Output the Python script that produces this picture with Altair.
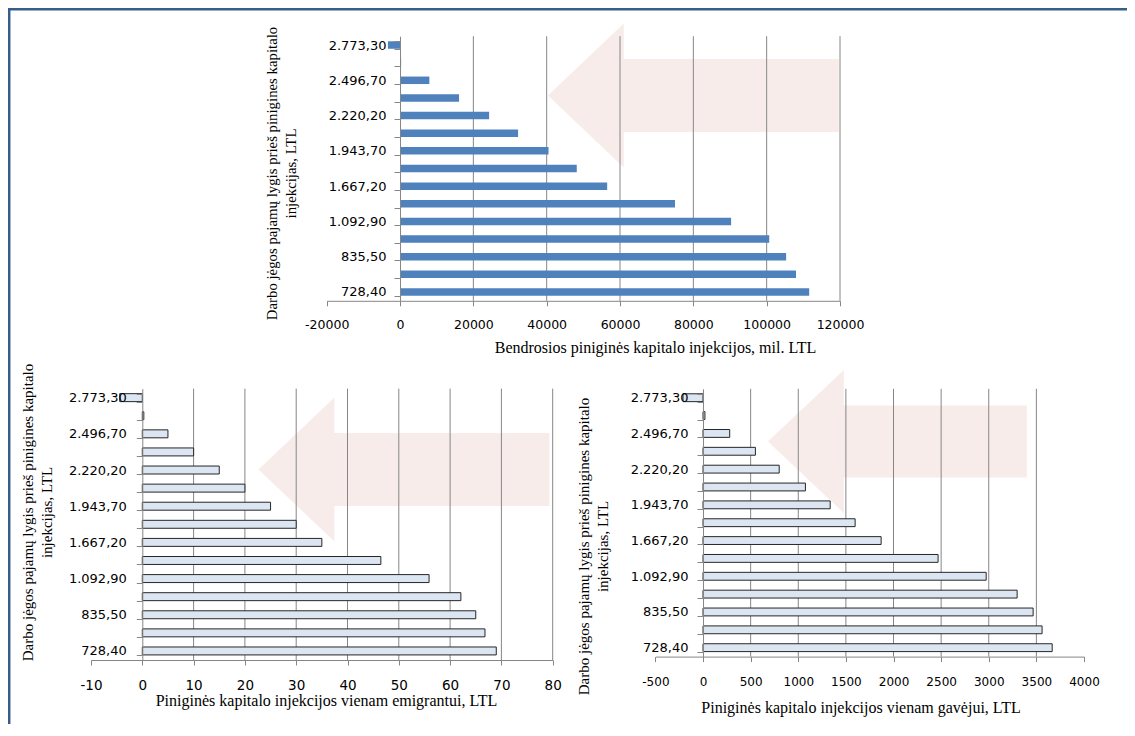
import json
import altair as alt
import pandas as pd

# ---------------- data ----------------
categories = ["2.773,30", "2.635,00", "2.496,70", "2.358,45", "2.220,20", "2.081,95",
              "1.943,70", "1.805,45", "1.667,20", "1.380,05", "1.092,90", "964,20",
              "835,50", "781,95", "728,40"]
shown_labels = ["2.773,30", "2.496,70", "2.220,20", "1.943,70", "1.667,20",
                "1.092,90", "835,50", "728,40"]

total_injection = [-3300, 300, 8000, 16100, 24300, 32200, 40500, 48200, 56500,
                   75000, 90300, 100700, 105300, 108000, 111600]
per_emigrant = [-4.4, 0.3, 5, 10, 15, 20, 25, 30, 35, 46.5, 55.9, 62.1, 65, 66.8, 69]
per_recipient = [-210, 20, 280, 550, 800, 1075, 1335, 1597, 1870, 2468, 2973,
                 3298, 3466, 3560, 3666]

top_ticks = [-20000, 0, 20000, 40000, 60000, 80000, 100000, 120000]
bl_ticks = [-10, 0, 10, 20, 30, 40, 50, 60, 70, 80]
br_ticks = [-500, 0, 500, 1000, 1500, 2000, 2500, 3000, 3500, 4000]
top_grid = [20000, 40000, 60000, 80000, 100000, 120000]
bl_grid = [10, 20, 30, 40, 50, 60, 70, 80]
br_grid = [500, 1000, 1500, 2000, 2500, 3000, 3500]

y_title_top = ["Darbo jėgos pajamų lygis prieš pinigines  kapitalo", "injekcijas, LTL"]
y_title_bl = ["Darbo jėgos pajamų lygis prieš pinigines  kapitalo", "injekcijas, LTL"]
y_title_br = ["Darbo jėgos pajamų lygis prieš pinigines kapitalo", "injekcijas, LTL"]
x_title_top = "Bendrosios piniginės kapitalo injekcijos, mil. LTL"
x_title_bl = "Piniginės kapitalo injekcijos  vienam emigrantui, LTL"
x_title_br = "Piniginės kapitalo injekcijos  vienam  gavėjui, LTL"

# decorative arrows: centre (x in data units, y as fraction of plot height)
arrow_top = {"ax": [80000], "ay": [0.224]}
arrow_bl = {"ax": [51], "ay": [0.298]}
arrow_br = {"ax": [2040], "ay": [0.197]}

# ---------------- style / layout ----------------
W, H = 1119, 716
GRAY = "#868686"
LABEL_FONT = "DejaVu Sans"
TITLE_FONT = "Liberation Serif"
ARROW_A = "M-1,0 L-0.478,-0.495 L-0.478,-0.251 L1,-0.251 L1,0.251 L-0.478,0.251 L-0.478,0.495 Z"
ARROW_B = "M-1,0 L-0.413,-0.552 L-0.413,-0.278 L1,-0.278 L1,0.278 L-0.413,0.278 L-0.413,0.552 Z"

label_expr = "indexof(" + json.dumps(shown_labels) + ", datum.value) >= 0 ? datum.label : ''"


def panel(values, x_domain, x_range, y_range, ticks, grid_vals, arrow, arrow_shape,
          arrow_size, pad_inner, bar_kw, x_title, x_title_pos, x_title_size,
          x_label_size, x_label_pad, y_title, y_title_pos, y_title_size, y_label_pad):
    x0, x1 = x_range
    zero_x = x0 + (0 - x_domain[0]) / (x_domain[1] - x_domain[0]) * (x1 - x0)
    xscale = alt.Scale(domain=x_domain, range=list(x_range), nice=False)
    fscale = alt.Scale(domain=[0, 1], range=list(y_range), nice=False, zero=False)

    df = pd.DataFrame({"category": categories, "value": values})
    gdf = pd.DataFrame({"value": grid_vals})
    adf = pd.DataFrame(arrow).rename(columns={"ax": "value"})

    xaxis = alt.Axis(
        orient="bottom", offset=-(H - y_range[1]), values=ticks,
        labelExpr="'' + datum.value", zindex=1,
        grid=False, domainColor=GRAY, tickColor=GRAY, tickSize=5,
        labelFont=LABEL_FONT, labelFontSize=x_label_size, labelColor="#000",
        labelBaseline="middle", labelPadding=x_label_pad, labelFlush=False,
        labelOverlap=False,
        title=x_title, titleFont=TITLE_FONT, titleFontSize=x_title_size,
        titleFontWeight="normal", titleColor="#000", titleBaseline="alphabetic",
        titleAlign="center", titleX=x_title_pos[0], titleY=x_title_pos[1],
    )
    xenc = alt.X("value:Q", scale=xscale, axis=xaxis)

    arrow_layer = alt.Chart(adf).mark_point(
        shape=arrow_shape, filled=True, color="#F2DCDB", opacity=0.55,
        strokeWidth=0, size=arrow_size
    ).encode(
        x=xenc,
        y=alt.Y("ay:Q", scale=fscale, axis=None),
    )

    grid_layer = alt.Chart(gdf).mark_rule(color=GRAY, strokeWidth=1).encode(
        x=xenc,
        y=alt.YDatum(0, type="quantitative", scale=fscale, axis=None),
        y2=alt.Y2Datum(1),
    )

    yaxis = alt.Axis(
        orient="left", offset=-zero_x, tickBand="extent", labelExpr=label_expr,
        zindex=1,
        domainColor=GRAY, tickColor=GRAY, tickSize=6, grid=False,
        labelFont=LABEL_FONT, labelFontSize=13, labelColor="#000",
        labelBaseline="middle", labelPadding=y_label_pad, labelOverlap=False,
        title=y_title, titleFont=TITLE_FONT, titleFontSize=y_title_size,
        titleFontWeight="normal", titleColor="#000", titleAngle=270,
        titleBaseline="alphabetic", titleAlign="center", titleLineHeight=19,
        titleX=y_title_pos[0] - zero_x, titleY=y_title_pos[1],
    )
    bars = alt.Chart(df).mark_bar(**bar_kw).encode(
        x=xenc,
        y=alt.Y("category:N", sort=categories,
                scale=alt.Scale(domain=categories, range=list(y_range),
                                paddingInner=pad_inner, paddingOuter=pad_inner / 2),
                axis=yaxis),
    )
    return alt.layer(arrow_layer, grid_layer, bars).resolve_scale(y="independent")


top = panel(total_injection, [-20000, 120000], (318.7, 832), (28.2, 292.8),
            top_ticks, top_grid, arrow_top, ARROW_A, 291 ** 2, 0.575,
            dict(color="#4F81BD"), x_title_top, (647, 52), 16, 12.5, 19,
            y_title_top, (268, 165), 14.8, 8)

bl = panel(per_emigrant, [-10, 80], (83, 544.7), (380.6, 652),
           bl_ticks, bl_grid, arrow_bl, ARROW_A, 291 ** 2, 0.56,
           dict(fill="#DCE6F2", stroke="#262626", strokeWidth=1),
           x_title_bl, (318, 45), 16, 13.5, 20, y_title_bl, (24, 504), 15, 10)

br = panel(per_recipient, [-500, 4000], (647.4, 1076), (380.8, 648.6),
           br_ticks, br_grid, arrow_br, ARROW_B, 259 ** 2, 0.56,
           dict(fill="#DCE6F2", stroke="#262626", strokeWidth=1),
           x_title_br, (852.5, 55.5), 16, 12, 20, y_title_br, (580, 538), 15, 9)

one = pd.DataFrame({"a": [0]})
frame_left = alt.Chart(one).mark_rule(color="#385D8A", strokeWidth=2.5).encode(
    x=alt.value(1.2), y=alt.value(0), y2=alt.value(H))
frame_top = alt.Chart(one).mark_rule(color="#385D8A", strokeWidth=2.5).encode(
    x=alt.value(0), x2=alt.value(W), y=alt.value(1.2))

chart = alt.layer(frame_left, frame_top, top, bl, br).resolve_scale(
    x="independent", y="independent"
).properties(
    width=W, height=H, padding=0, autosize="none", background="white"
).configure_view(stroke=None)

chart.save("out.html", embed_options={"renderer": "svg", "actions": False})
